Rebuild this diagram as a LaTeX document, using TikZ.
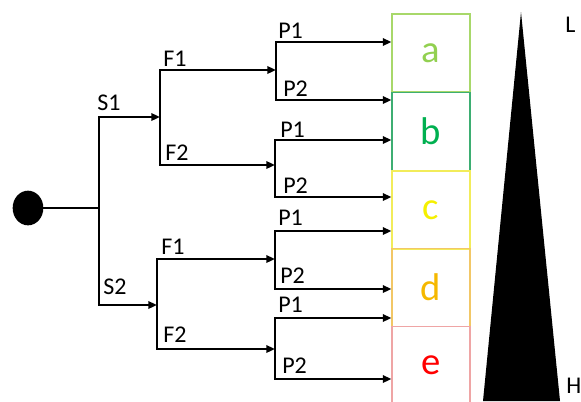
\documentclass[tikz,border=0pt]{standalone}
\usepackage{fontspec}
\setmainfont{Carlito}
\usetikzlibrary{arrows.meta,shapes.geometric}
\definecolor{cA}{HTML}{92D050}
\definecolor{cAb}{HTML}{A8D86A}
\definecolor{cB}{HTML}{00B050}
\definecolor{cBb}{HTML}{3DAE72}
\definecolor{cC}{HTML}{F5F000}
\definecolor{cCb}{HTML}{F2EC5A}
\definecolor{cD}{HTML}{F5B800}
\definecolor{cDb}{HTML}{F2C766}
\definecolor{cE}{HTML}{FF0000}
\definecolor{cEb}{HTML}{EFA5A5}
\begin{document}
\begin{tikzpicture}[x=0.75pt,y=-0.75pt,
  wire/.style={line width=2.2pt, line cap=rect},
  arr/.style={line width=2.2pt, -{Triangle[length=6.5pt,width=5.5pt]}},
  lbl/.style={font=\fontsize{18}{18}\selectfont, inner sep=0pt, anchor=base west},
  box/.style={draw, line width=0.8pt, minimum width=58.5pt, minimum height=58.5pt, inner sep=0pt, font=\fontsize{29}{29}\selectfont}]
\useasboundingbox (0,0) rectangle (581,401);

% result boxes
\node[box, draw=cAb, text=cA] (a) at (431,53) {a};
\node[box, draw=cBb, text=cB] (b) at (431,131.5) {b};
\node[box, draw=cCb, text=cC] (c) at (431,210) {c};
\node[box, draw=cDb, text=cD] (d) at (431,287.5) {d};
\node[box, draw=cEb, text=cE] (e) at (431,365.5) {e};

% root
\node[ellipse, fill=black, minimum width=23pt, minimum height=26pt, inner sep=0pt] (root) at (28,208) {};
\coordinate (j0) at (99,208);
\coordinate (s1) at (99,117);
\coordinate (s2) at (99,305);
\coordinate (fu) at (160,117);
\coordinate (fl) at (157,305);
\coordinate (fu1) at (160,70);
\coordinate (fu2) at (160,165);
\coordinate (fl1) at (157,259);
\coordinate (fl2) at (157,349);
\coordinate (pu1) at (276,70);
\coordinate (pu2) at (275,165);
\coordinate (pl1) at (275,259);
\coordinate (pl2) at (275,349);
\coordinate (pu1a) at (276,42);
\coordinate (pu1b) at (276,100);
\coordinate (pu2a) at (275,140);
\coordinate (pu2b) at (275,197);
\coordinate (pl1a) at (275,231);
\coordinate (pl1b) at (275,289);
\coordinate (pl2a) at (275,318);
\coordinate (pl2b) at (275,379);

\draw[wire] (root) -- (j0);
\draw[wire] (s1) -- (s2);
\draw[arr] (s1) -- (fu);
\draw[arr] (s2) -- (fl);
\draw[wire] (fu1) -- (fu2);
\draw[wire] (fl1) -- (fl2);
\draw[arr] (fu1) -- (pu1);
\draw[arr] (fu2) -- (pu2);
\draw[arr] (fl1) -- (pl1);
\draw[arr] (fl2) -- (pl2);
\draw[wire] (pu1a) -- (pu1b);
\draw[wire] (pu2a) -- (pu2b);
\draw[wire] (pl1a) -- (pl1b);
\draw[wire] (pl2a) -- (pl2b);
\draw[arr] (pu1a) -- (pu1a -| a.west);
\draw[arr] (pu1b) -- (pu1b -| b.west);
\draw[arr] (pu2a) -- (pu2a -| b.west);
\draw[arr] (pu2b) -- (pu2b -| c.west);
\draw[arr] (pl1a) -- (pl1a -| c.west);
\draw[arr] (pl1b) -- (pl1b -| d.west);
\draw[arr] (pl2a) -- (pl2a -| d.west);
\draw[arr] (pl2b) -- (pl2b -| e.west);

% labels
\node[lbl] (ls1) at (97,110) {S1};
\node[lbl] (ls2) at (103,294) {S2};
\node[lbl] (lf1u) at (163,66) {F1};
\node[lbl] (lf2u) at (165,160) {F2};
\node[lbl] (lf1l) at (161,254) {F1};
\node[lbl] (lf2l) at (163,342) {F2};
\node[lbl] (lp1) at (278,38) {P1};
\node[lbl] (lp2) at (283,96) {P2};
\node[lbl] (lp3) at (280,137) {P1};
\node[lbl] (lp4) at (283,193) {P2};
\node[lbl] (lp5) at (278,225) {P1};
\node[lbl] (lp6) at (280,283) {P2};
\node[lbl] (lp7) at (278,312) {P1};
\node[lbl] (lp8) at (282,373) {P2};

% scale wedge
\coordinate (tA) at (521,12);
\coordinate (tR) at (560,401);
\coordinate (tL) at (483,401);
\fill[black] (tA) -- (tR) -- (tL) -- cycle;
\node[lbl] (lL) at (565,32) {L};
\node[lbl] (lH) at (566,393) {H};
\end{tikzpicture}
\end{document}
